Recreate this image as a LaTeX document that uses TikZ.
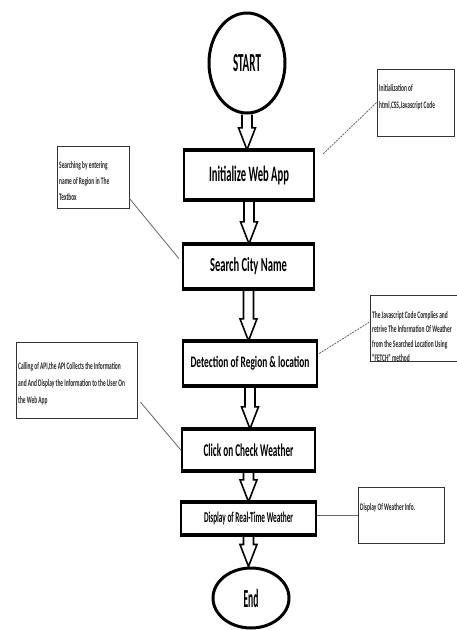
\documentclass[tikz,border=0pt]{standalone}
\usepackage{fontspec}
\setmainfont{Carlito}
\usepackage{graphicx}
\usetikzlibrary{shapes.geometric,calc}
\newcommand\fitw[2]{\resizebox{#1}{\height}{#2}}
\newcommand\annt[2]{\scalebox{0.54}[1]{\fontsize{10}{#1}\selectfont\bfseries\begin{tabular}{@{}l@{}}#2\end{tabular}}}
\newcommand\fatarrow[2]{%
  \coordinate (tip) at (#1.south |- #2.north);
  \draw[fatarr] ($(#1.south)+(-5,0)$) -- ($(tip)+(-5,-22)$) -- ($(tip)+(-8.5,-22)$) -- (tip)
     -- ($(tip)+(8.5,-22)$) -- ($(tip)+(5,-22)$) -- ($(#1.south)+(5,0)$);}
\tikzset{
  stepbox/.style={draw, line width=2.4pt, rectangle, inner sep=0pt},
  edgebar/.style={line width=4pt},
  term/.style={draw, ellipse, line width=3pt, inner sep=0pt},
  annbox/.style={draw=black!80, line width=0.8pt, rectangle, inner sep=0pt},
  anntxt/.style={anchor=north west, inner sep=0pt, align=left, text=black!85},
  fatarr/.style={draw, line width=1.6pt, line join=miter},
  link/.style={draw=black!60, line width=0.8pt},
  dlink/.style={link, dash pattern=on 2pt off 1pt}
}
\begin{document}
\begin{tikzpicture}[x=1pt,y=-1pt]
\fill[white] (0,0) rectangle (456,630);
\useasboundingbox (0,0) rectangle (456,630);

% flow nodes
\node[term, minimum width=76, minimum height=100] (start) at (247,63)
  {\fitw{28pt}{\fontsize{26}{30}\selectfont\bfseries START}};
\node[stepbox, minimum width=130, minimum height=48] (init) at (249,175)
  {\fitw{80pt}{\fontsize{22}{26}\selectfont\bfseries Initialize Web App}};
\node[stepbox, minimum width=131, minimum height=43] (search) at (248.5,266.5)
  {\fitw{77pt}{\fontsize{20}{24}\selectfont\bfseries Search City Name}};
\node[stepbox, minimum width=134, minimum height=43] (detect) at (250,363.5)
  {\fitw{119pt}{\fontsize{16}{20}\selectfont\bfseries Detection of Region \& location}};
\node[stepbox, minimum width=133, minimum height=40] (click) at (248.5,450)
  {\fitw{90pt}{\fontsize{18}{22}\selectfont\bfseries Click on Check Weather}};
\node[stepbox, minimum width=135, minimum height=31] (display) at (248.5,518.5)
  {\fitw{89pt}{\fontsize{15}{18}\selectfont\bfseries Display of Real-Time Weather}};
\node[term, minimum width=76, minimum height=60] (end) at (251,598)
  {\fitw{15pt}{\fontsize{26}{30}\selectfont\bfseries End}};
\foreach \n in {init,search,detect,click,display}
  \draw[edgebar] (\n.north west) -- (\n.north east) (\n.south west) -- (\n.south east);

% hollow arrows
\fatarrow{start}{init}
\fatarrow{init}{search}
\fatarrow{search}{detect}
\fatarrow{detect}{click}
\fatarrow{click}{display}
\fatarrow{display}{end}

% annotation boxes
\node[annbox, minimum width=77, minimum height=67] (a1) at (415.5,102.5) {};
\node[anntxt] (t1) at (379,79) {\annt{17}{Initialization of\\html,CSS,Javascript Code}};
\node[annbox, minimum width=72, minimum height=62] (a2) at (93,177) {};
\node[anntxt] (t2) at (59,157) {\annt{16}{Searching by entering\\name of Region in The\\Textbox}};
\node[annbox, minimum width=90, minimum height=66] (a3) at (415,328) {};
\node[anntxt] (t3) at (372,308) {\annt{14.4}{The Javascript Code Complies and\\retrive The Information Of Weather\\from the Searched Location Using\\“FETCH” method}};
\node[annbox, minimum width=121, minimum height=76] (a4) at (76.5,380) {};
\node[anntxt] (t4) at (18,357) {\annt{17}{Calling of API,the API Collects the Information\\and And Display the Information to the User On\\the Web App}};
\node[annbox, minimum width=86, minimum height=56] (a5) at (401,515) {};
\node[anntxt] (t5) at (360,498) {\annt{17}{Display Of Weather Info.}};

% connectors
\draw[dlink] ($(init.north east)+(8,4)$) -- (a1.west);
\draw[link] ($(a2.south east)+(0,-10)$) -- ($(search.west)+(-3,-8)$);
\draw[dlink] ($(detect.east)+(1,-10)$) -- ($(a3.west)+(0,-6)$);
\draw[link] ($(a4.east)+(3,22)$) -- (click.west);
\draw[link] ($(display.east)+(0,-3.5)$) -- (a5.west);
\end{tikzpicture}
\end{document}
